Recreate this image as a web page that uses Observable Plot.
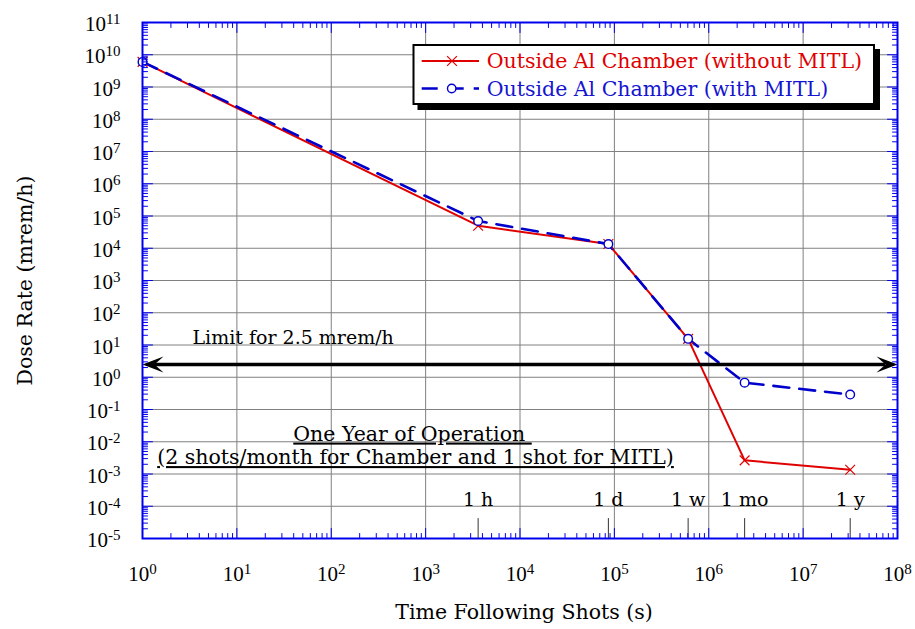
<!DOCTYPE html>
<html><head><meta charset="utf-8">
<script src="https://cdn.jsdelivr.net/npm/d3@7"></script>
<script src="https://cdn.jsdelivr.net/npm/@observablehq/plot@0.6"></script>
<style>
html,body{margin:0;padding:0;background:#fff;}
#chart{width:915px;height:629px;}
</style></head>
<body><div id="chart"></div>
<script>
// ---- data ----
const pointTimes = [1, 3600, 86400, 604800, 2.4e6, 3.1536e7];
const doseWithoutMITL = [6e9, 5e4, 1.35e4, 15.5, 2.65e-3, 1.35e-3];
const doseWithMITL = [6e9, 7e4, 1.35e4, 15.5, 0.68, 0.29];
const seriesNames = ["Outside Al Chamber (without MITL)", "Outside Al Chamber (with MITL)"];
const timeLabels = ["1 h", "1 d", "1 w", "1 mo", "1 y"];
const timeSeconds = [3600, 86400, 604800, 2.4e6, 3.1536e7];
const limitDose = 2.5;
const limitText = "Limit for 2.5 mrem/h";
const noteLines = ["One Year of Operation\u00a0", "(2 shots/month for Chamber and 1 shot for MITL)"];
const xDecades = [1, 10, 100, 1e3, 1e4, 1e5, 1e6, 1e7, 1e8];
const yDecades = [1e-5, 1e-4, 1e-3, 1e-2, 1e-1, 1, 10, 100, 1e3, 1e4, 1e5, 1e6, 1e7, 1e8, 1e9, 1e10, 1e11];
const xTitle = "Time Following Shots (s)";
const yTitle = "Dose Rate (mrem/h)";

// ---- derived ----
const redRows = pointTimes.map((t, i) => ({t, dose: doseWithoutMITL[i]}));
const blueRows = pointTimes.map((t, i) => ({t, dose: doseWithMITL[i]}));
const minorX = [];
for (let e = 0; e < 8; e++) for (let k = 2; k < 10; k++) minorX.push(k * Math.pow(10, e));
const minorY = [];
for (let e = -5; e < 11; e++) for (let k = 2; k < 10; k++) minorY.push(k * Math.pow(10, e));
const expFmt = d => "10^" + Math.round(Math.log10(d));

const RED = "#e00000", BLUE = "#0000cc", FRAME = "#0000ee";
const tickShape = {draw(ctx, l) { ctx.moveTo(0, 0); ctx.lineTo(0, -l); }};
const stealth = {draw(ctx) { ctx.moveTo(0, 0); ctx.lineTo(21, -8); ctx.lineTo(12, 0); ctx.lineTo(21, 8); ctx.closePath(); }};

function ticks(data, anchor, rot, len, key) {
  const o = {frameAnchor: anchor, rotate: rot, length: len, anchor: "start", shape: tickShape, stroke: FRAME, strokeWidth: 1};
  o[key] = d => d;
  return Plot.vector(data, o);
}

const chart = Plot.plot({
  width: 915, height: 629,
  marginLeft: 142, marginRight: 18, marginTop: 22, marginBottom: 91,
  x: {type: "log", domain: [1, 1e8], axis: null},
  y: {type: "log", domain: [1e-5, 1e11], axis: null},
  style: {fontFamily: "DejaVu Serif", fontSize: "20.5px", background: "white", color: "black"},
  marks: [
    Plot.gridX(xDecades, {stroke: "#808080", strokeOpacity: 1, strokeWidth: 1}),
    Plot.gridY(yDecades, {stroke: "#808080", strokeOpacity: 1, strokeWidth: 1}),
    // data
    Plot.line(redRows, {x: "t", y: "dose", stroke: RED, strokeWidth: 2}),
    Plot.line(blueRows, {x: "t", y: "dose", stroke: BLUE, strokeWidth: 2.6, strokeDasharray: "16,10"}),
    Plot.dot(redRows, {x: "t", y: "dose", symbol: "times", r: 4.5, stroke: RED, strokeWidth: 1.2}),
    Plot.dot(blueRows, {x: "t", y: "dose", symbol: "circle", r: 4.3, fill: "white", stroke: BLUE, strokeWidth: 1.4}),
    // limit arrow
    Plot.ruleY([limitDose], {y: d => d, stroke: "black", strokeWidth: 3.5, insetLeft: 12, insetRight: 12}),
    Plot.dot([limitDose], {y: d => d, frameAnchor: "left", symbol: stealth, fill: "black", stroke: "none"}),
    Plot.dot([limitDose], {y: d => d, frameAnchor: "right", symbol: stealth, rotate: 180, fill: "black", stroke: "none"}),
    Plot.text([limitText], {y: limitDose, frameAnchor: "left", text: d => d, textAnchor: "start", dx: 50, dy: -27, fontSize: 19, fill: "black"}),
    // note
    Plot.text([noteLines[0]], {frameAnchor: "top-left", text: d => d, textAnchor: "middle", lineAnchor: "middle", dx: 270, dy: 411.5, fill: "black"}),
    Plot.text([noteLines[1]], {frameAnchor: "top-left", text: d => d, textAnchor: "middle", lineAnchor: "middle", dx: 273, dy: 435, fill: "black"}),
    // time markers
    Plot.vector(timeSeconds, {x: d => d, frameAnchor: "bottom", length: 20, anchor: "start", shape: tickShape, stroke: "#333", strokeWidth: 1}),
    Plot.text(timeSeconds, {x: d => d, frameAnchor: "bottom", text: (d, i) => timeLabels[i], textAnchor: "middle", lineAnchor: "middle", dy: -39, fontSize: 19, fill: "black"}),
    // frame and ticks
    Plot.frame({stroke: FRAME, strokeWidth: 2}),
    ticks(minorX, "bottom", 0, 5, "x"),
    ticks(xDecades, "bottom", 0, 10, "x"),
    ticks(minorX, "top", 180, 5, "x"),
    ticks(xDecades, "top", 180, 10, "x"),
    ticks(minorY, "left", 90, 5, "y"),
    ticks(yDecades, "left", 90, 10, "y"),
    ticks(minorY, "right", -90, 5, "y"),
    ticks(yDecades, "right", -90, 10, "y"),
    // tick labels
    Plot.text(xDecades, {x: d => d, frameAnchor: "bottom", text: expFmt, textAnchor: "middle", lineAnchor: "middle", dy: 35.6, fontFamily: "Liberation Serif", fontSize: 21, fill: "black"}),
    Plot.text(yDecades, {y: d => d, frameAnchor: "left", text: expFmt, textAnchor: "end", lineAnchor: "middle", dx: -22, dy: 2, fontFamily: "Liberation Serif", fontSize: 21, fill: "black"}),
    // axis titles
    Plot.text([xTitle], {frameAnchor: "bottom", text: d => d, textAnchor: "middle", lineAnchor: "middle", dx: 4, dy: 74, fill: "black"}),
    Plot.text([yTitle], {frameAnchor: "left", text: d => d, textAnchor: "middle", lineAnchor: "middle", rotate: -90, dx: -117, fill: "black"})
  ]
});

// superscripts and underlines
d3.select(chart).selectAll("text").each(function() {
  const t = this.textContent;
  const m = /^10\^(-?\d+)$/.exec(t);
  if (m) {
    this.textContent = "10";
    d3.select(this).append("tspan").attr("dy", "-7").attr("font-size", 15).text(m[1]);
  } else if (noteLines.includes(t)) {
    d3.select(this).style("text-decoration", "underline");
  }
});

// legend
const svg = d3.select(chart);
const lg = svg.append("g").attr("font-family", "DejaVu Serif").attr("font-size", "20.5px").attr("text-anchor", "start");
lg.append("rect").attr("x", 417.5).attr("y", 49).attr("width", 462.5).attr("height", 61).attr("fill", "black");
lg.append("rect").attr("x", 413.5).attr("y", 45).attr("width", 460.5).attr("height", 59).attr("fill", "white").attr("stroke", "black").attr("stroke-width", 2);
lg.append("line").attr("x1", 421.7).attr("x2", 479).attr("y1", 61).attr("y2", 61).attr("stroke", RED).attr("stroke-width", 2);
lg.append("path").attr("d", "M447.1,56.1L456.9,65.9M447.1,65.9L456.9,56.1").attr("stroke", RED).attr("stroke-width", 1.2);
lg.append("text").attr("x", 486.7).attr("y", 67.5).attr("text-anchor", "start").attr("fill", RED).text(seriesNames[0]);
lg.append("line").attr("x1", 421.7).attr("x2", 479).attr("y1", 88.5).attr("y2", 88.5).attr("stroke", BLUE).attr("stroke-width", 2.6).attr("stroke-dasharray", "16,10");
lg.append("circle").attr("cx", 451.7).attr("cy", 88.5).attr("r", 4.2).attr("fill", "white").attr("stroke", BLUE).attr("stroke-width", 1.4);
lg.append("text").attr("x", 486.7).attr("y", 96).attr("text-anchor", "start").attr("fill", "#1515d0").text(seriesNames[1]);

document.getElementById("chart").appendChild(chart);
</script>
</body></html>
